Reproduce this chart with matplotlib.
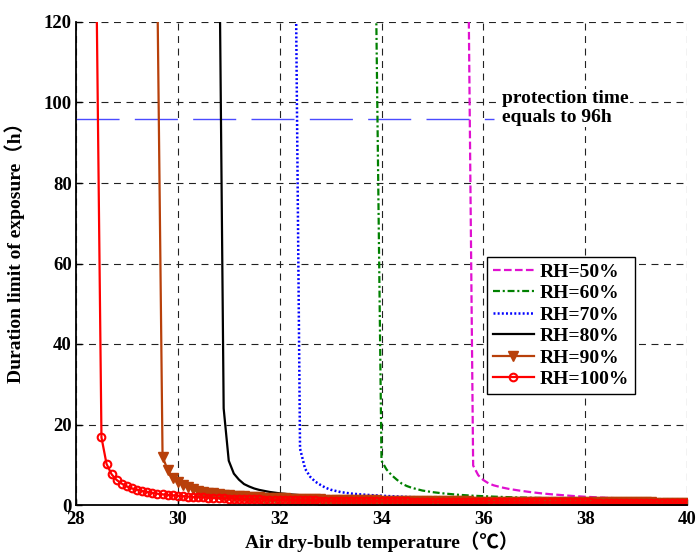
import numpy as np
import matplotlib
matplotlib.use('Agg')
import matplotlib.pyplot as plt

plt.rcParams['font.family'] = ['Liberation Serif', 'Noto Sans CJK SC', 'DejaVu Sans']
plt.rcParams['font.weight'] = 'bold'
plt.rcParams['lines.scale_dashes'] = False

# ----------------------------------------------------------------------
# data (temperature in degC, duration in h)
# ----------------------------------------------------------------------
# RH=100%: points every 0.1 degC, first one above the axis
t100_x = np.round(np.arange(28.4, 40.001, 0.1), 2)
t100_y = [131,
          16.8, 10.2, 7.6, 6.2, 5.3, 4.6, 4.1, 3.8, 3.45, 3.2,
          3.0, 2.8, 2.65, 2.5, 2.4, 2.3, 2.2, 2.1, 2.0, 1.94,
          1.88, 1.81, 1.75, 1.70, 1.65, 1.61, 1.56, 1.52, 1.48, 1.45,
          1.42, 1.39, 1.36, 1.33, 1.30, 1.28, 1.25, 1.23, 1.20, 1.18,
          1.16, 1.14, 1.12, 1.10, 1.08, 1.06, 1.05, 1.03, 1.02, 1.00,
          0.99, 0.97, 0.96, 0.95, 0.93, 0.92, 0.91, 0.90, 0.89, 0.88,
          0.87, 0.86, 0.85, 0.84, 0.83, 0.82, 0.81, 0.80, 0.80, 0.79,
          0.78, 0.77, 0.77, 0.76, 0.75, 0.75, 0.74, 0.73, 0.73, 0.72,
          0.71, 0.71, 0.70, 0.70, 0.69, 0.68, 0.68, 0.67, 0.67, 0.66,
          0.66, 0.65, 0.65, 0.64, 0.64, 0.63, 0.63, 0.62, 0.62, 0.61,
          0.61, 0.60, 0.60, 0.60, 0.59, 0.59, 0.58, 0.58, 0.58, 0.57,
          0.57, 0.56, 0.56, 0.56, 0.55, 0.55]

# RH=90%
t90_x = np.round(np.arange(29.6, 40.001, 0.1), 2)
t90_y = [126,
         12.0, 8.7, 6.8, 5.7, 4.9, 4.35, 3.95, 3.6, 3.3, 3.1,
         2.9, 2.73, 2.58, 2.45, 2.33, 2.23, 2.14, 2.06, 1.98, 1.91,
         1.85, 1.79, 1.73, 1.68, 1.63, 1.59, 1.55, 1.51, 1.47, 1.44,
         1.41, 1.38, 1.35, 1.32, 1.29, 1.27, 1.24, 1.22, 1.20, 1.18,
         1.16, 1.14, 1.12, 1.10, 1.08, 1.06, 1.05, 1.03, 1.01, 1.00,
         0.98, 0.97, 0.96, 0.94, 0.93, 0.92, 0.91, 0.90, 0.89, 0.88,
         0.87, 0.86, 0.85, 0.84, 0.83, 0.82, 0.81, 0.80, 0.79, 0.79,
         0.78, 0.77, 0.76, 0.76, 0.75, 0.74, 0.74, 0.73, 0.72, 0.72,
         0.71, 0.70, 0.70, 0.69, 0.69, 0.68, 0.68, 0.67, 0.67, 0.66,
         0.66, 0.65, 0.65, 0.64, 0.64, 0.63, 0.63, 0.62, 0.62, 0.61,
         0.61, 0.60, 0.60, 0.60]

# RH=80%
t80_x = [30.8, 30.9, 31.0, 31.1, 31.2, 31.3, 31.4, 31.5, 31.6, 31.8, 32.0,
         32.25, 32.5, 33.0, 33.5, 34.0, 35.0, 36.0, 37.0, 38.0, 39.0, 40.0]
t80_y = [160, 24, 11.0, 7.8, 6.3, 5.2, 4.6, 4.1, 3.75, 3.25, 2.9,
         2.6, 2.35, 2.0, 1.78, 1.6, 1.35, 1.18, 1.05, 0.95, 0.87, 0.8]

# RH=70%
t70_x = [32.31, 32.4, 32.5, 32.6, 32.7, 32.8, 32.9, 33.0, 33.2, 33.4, 33.6,
         33.8, 34.0, 34.5, 35.0, 36.0, 37.0, 38.0, 39.0, 40.0]
t70_y = [140, 14, 9.0, 7.0, 5.8, 5.0, 4.3, 3.8, 3.2, 2.85, 2.62,
         2.45, 2.3, 2.0, 1.8, 1.5, 1.3, 1.15, 1.05, 0.95]

# RH=60%
t60_x = [33.88, 34.0, 34.1, 34.2, 34.3, 34.4, 34.5, 34.6, 34.8, 35.0, 35.2,
         35.5, 35.8, 36.2, 36.6, 37.0, 38.0, 39.0, 40.0]
t60_y = [140, 11.0, 8.8, 7.4, 6.3, 5.3, 4.7, 4.25, 3.6, 3.2, 2.9,
         2.55, 2.3, 2.08, 1.9, 1.78, 1.55, 1.38, 1.25]

# RH=50%
t50_x = [35.7, 35.8, 35.9, 36.0, 36.1, 36.2, 36.35, 36.5, 36.7, 36.9, 37.1,
         37.3, 37.5, 37.75, 38.0, 38.4, 38.9, 39.4, 40.0]
t50_y = [140, 9.8, 7.4, 6.2, 5.4, 4.9, 4.4, 4.0, 3.6, 3.25, 2.95,
         2.7, 2.5, 2.25, 2.05, 1.8, 1.55, 1.38, 1.22]

# protection time line
protect_x = [28, 36.2]
protect_y = [96, 96]

x_ticks = [28, 30, 32, 34, 36, 38, 40]
y_ticks = [0, 20, 40, 60, 80, 100, 120]

# ----------------------------------------------------------------------
fig = plt.figure(figsize=(6.97, 5.52), dpi=100)
ax = fig.add_axes([76 / 697, 47 / 552, 611 / 697, 483 / 552])

ax.plot(protect_x, protect_y, color='#4a4aff', lw=1.0, dashes=(31, 11), zorder=1)

ax.plot(t50_x, t50_y, color='#e010d0', lw=1.6, dashes=(5.5, 2.4), label='RH=50%')
ax.plot(t60_x, t60_y, color='#008000', lw=1.6, dashes=(5, 2, 1.5, 2), label='RH=60%')
ax.plot(t70_x, t70_y, color='#0000ff', lw=1.8, dashes=(1.4, 1.6), label='RH=70%')
ax.plot(t80_x, t80_y, color='black', lw=1.6, label='RH=80%')
ax.plot(t90_x, t90_y, color='#b8400a', lw=1.6, marker='v', markersize=7,
        label='RH=90%')
ax.plot(t100_x, t100_y, color='#ff0000', lw=1.6, marker='o', markersize=5.5,
        markerfacecolor='none', markeredgewidth=1.5, label='RH=100%')

ax.set_xlim(28, 40)
ax.set_ylim(0, 120)
ax.set_xticks(x_ticks)
ax.set_yticks(y_ticks)
ax.tick_params(direction='in', length=4, width=1, labelsize=13.5)
ax.tick_params(axis='x', pad=4)
ax.tick_params(axis='y', pad=3)
for lab in ax.get_xticklabels() + ax.get_yticklabels():
    lab.set_fontweight('bold')

ax.grid(True, color='#222222', lw=0.8, linestyle=(0, (5, 4)))
ax.set_axisbelow(True)
ax.spines['top'].set_visible(False)
ax.spines['right'].set_visible(False)
ax.spines['left'].set_linewidth(1.3)
ax.spines['bottom'].set_linewidth(1.3)

ax.set_xlabel('Air dry-bulb temperature（℃）', fontsize=14, fontweight='bold', va='center')
ax.xaxis.set_label_coords(0.5, -0.076)
ax.set_ylabel('Duration limit of exposure（h）', fontsize=14, fontweight='bold')
ax.yaxis.set_label_coords(-0.083, 0.533)

ax.text(36.37, 98.6, 'protection time\nequals to 96h', fontsize=14, fontweight='bold',
        ha='left', va='center', linespacing=1.15,
        bbox=dict(facecolor='white', edgecolor='none', pad=1))

leg = ax.legend(loc='upper left', bbox_to_anchor=(0.673, 0.513), borderaxespad=0,
                prop={'weight': 'bold', 'size': 14}, fancybox=False, framealpha=1,
                edgecolor='black', handlelength=2.1, handletextpad=0.3,
                labelspacing=0.2, borderpad=0.3)
leg.get_frame().set_linewidth(1.0)

plt.savefig('out.png', dpi=100)
